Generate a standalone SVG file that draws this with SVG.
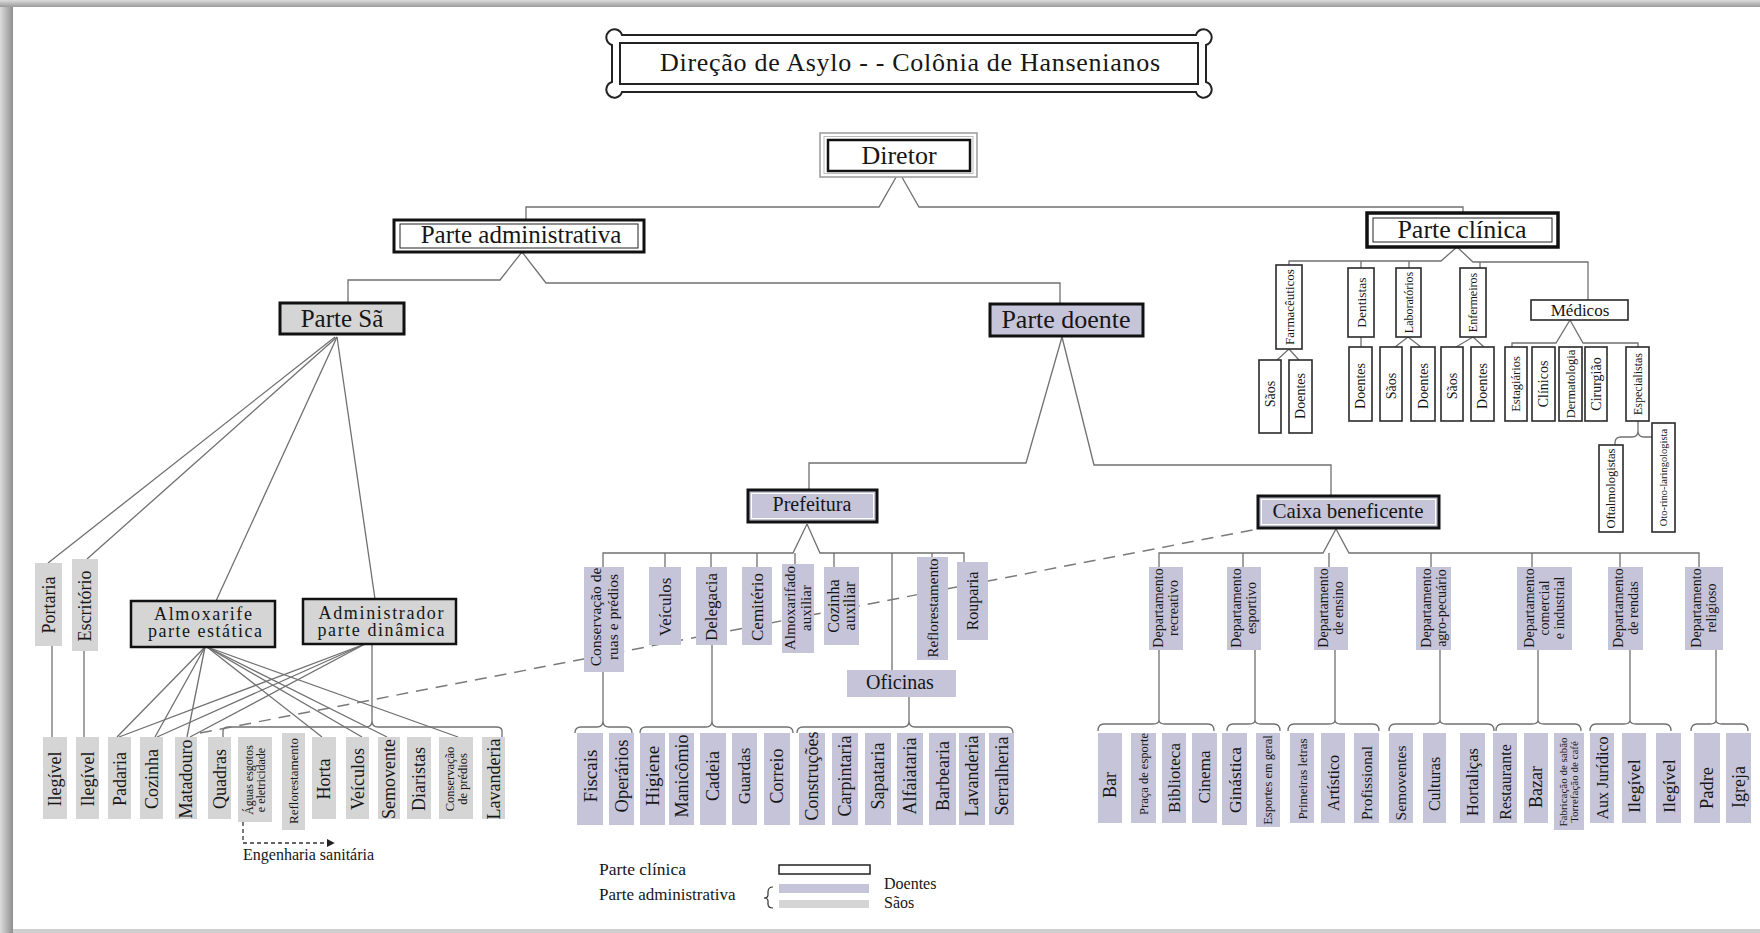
<svg xmlns="http://www.w3.org/2000/svg" width="1760" height="933" viewBox="0 0 1760 933">
<defs>
<style>
.t{font-family:"Liberation Serif","Times New Roman",serif;fill:#161616}
.v{text-anchor:middle}
.m{text-anchor:middle}
.g{fill:#d5d5d5}
.d{fill:#c6c4d9}
.w{fill:#fff;stroke:#2a2a2a;stroke-width:1.6}
.kb{stroke:#111;stroke-width:3}
.ln{fill:none;stroke:#707070;stroke-width:1.3}
.dash{fill:none;stroke:#7a7a7a;stroke-width:1.5;stroke-dasharray:12 8}
</style>
<linearGradient id="gl" x1="0" y1="0" x2="1" y2="0"><stop offset="0" stop-color="#dcdcdc"/><stop offset="1" stop-color="#8e8e8e"/></linearGradient>
<linearGradient id="gt" x1="0" y1="0" x2="0" y2="1"><stop offset="0" stop-color="#dcdcdc"/><stop offset="1" stop-color="#9a9a9a"/></linearGradient>
<marker id="ah" viewBox="0 0 10 10" refX="9" refY="5" markerWidth="6" markerHeight="6" orient="auto"><path d="M0,0 L10,5 L0,10 z" fill="#222"/></marker>
</defs>

<!-- page & shadow -->
<rect x="0" y="0" width="1760" height="933" fill="#cfcfcf"/>
<rect x="0" y="0" width="13" height="933" fill="url(#gl)"/>
<rect x="0" y="0" width="1760" height="7" fill="url(#gt)"/>
<rect x="13" y="7" width="1747" height="922" fill="#fff"/>

<!-- connectors -->
<g id="connectors" class="ln">
<path d="M899,172 L879,207 H526 V220"/>
<path d="M899,172 L919,207 H1463 V213"/>
<path d="M522,252 L500,280 H348 V303"/>
<path d="M522,252 L546,283 H1060 V304"/>
<path d="M1062,337 L1026,463 H809 V490"/>
<path d="M1062,337 L1094,465 H1331 V496"/>
<!-- Parte Sa fan -->
<path d="M335,337 L48,563"/>
<path d="M337,337 L87,559"/>
<path d="M337,337 L216,601"/>
<path d="M337,337 L375,599"/>
<path d="M52,646 V737"/>
<path d="M84,651 V737"/>
<!-- Almoxarife fan -->
<path d="M205,647 L117,737"/>
<path d="M205,647 L155,737"/>
<path d="M205,647 L187,737"/>
<path d="M207,647 L322,737"/>
<path d="M207,647 L362,737"/>
<path d="M207,647 L387,737"/>
<path d="M207,647 L458,737"/>
<!-- Administrador fan -->
<path d="M365,644 L119,737"/>
<path d="M365,644 L157,737"/>
<path d="M365,644 L190,737"/>
<path d="M372,644 V721"/>
<path d="M223,737 V731 Q223,727 229,727 H366 Q372,727 372,721 Q372,727 378,727 H496 Q502,727 502,731 V737"/>
<!-- Prefeitura -->
<path d="M807,524 L793,553 H603 V567"/>
<path d="M807,524 L820,553 H964 V562"/>
<path d="M665,553 V567 M711,553 V567 M757,553 V567 M795,553 V564 M834,553 V567 M892,553 V670 M932,553 V557"/>
<path d="M603,672 V721 M575,733 Q575,727 581,727 H597 Q603,727 603,721 Q603,727 609,727 H626 Q632,727 632,733"/>
<path d="M712,645 V721 M640,733 Q640,727 646,727 H706 Q712,727 712,721 Q712,727 718,727 H787 Q793,727 793,733"/>
<path d="M909,697 V721 M797,733 Q797,727 803,727 H903 Q909,727 909,721 Q909,727 915,727 H1007 Q1013,727 1013,733"/>
<!-- Caixa -->
<path d="M1336,529 L1323,553 H1159 V567"/>
<path d="M1336,529 L1349,553 H1699 V567"/>
<path d="M1243,553 V567 M1329,553 V567 M1431,553 V567 M1532,553 V567 M1620,553 V567"/>
<path d="M1159,650 V720 M1098,731 Q1098,724 1104,724 H1153 Q1159,724 1159,720 Q1159,724 1165,724 H1208 Q1214,724 1214,731"/>
<path d="M1255,650 V720 M1227,731 Q1227,724 1233,724 H1249 Q1255,724 1255,720 Q1255,724 1261,724 H1274 Q1280,724 1280,731"/>
<path d="M1335,650 V720 M1288,731 Q1288,724 1294,724 H1329 Q1335,724 1335,720 Q1335,724 1341,724 H1373 Q1379,724 1379,731"/>
<path d="M1440,650 V720 M1389,731 Q1389,724 1395,724 H1434 Q1440,724 1440,720 Q1440,724 1446,724 H1488 Q1494,724 1494,731"/>
<path d="M1538,650 V720 M1496,731 Q1496,724 1502,724 H1532 Q1538,724 1538,720 Q1538,724 1544,724 H1575 Q1581,724 1581,731"/>
<path d="M1630,650 V720 M1590,731 Q1590,724 1596,724 H1624 Q1630,724 1630,720 Q1630,724 1636,724 H1665 Q1671,724 1671,731"/>
<path d="M1716,650 V720 M1691,731 Q1691,724 1697,724 H1710 Q1716,724 1716,720 Q1716,724 1722,724 H1742 Q1748,724 1748,731"/>
<!-- Clinica -->
<path d="M1457,247 L1441,261 H1289 V265"/>
<path d="M1457,247 L1473,262 H1588 V300"/>
<path d="M1361,261 V268 M1409,261 V268 M1480,262 V268"/>
<path d="M1289,349 L1277,360 M1289,349 L1299,360"/>
<path d="M1361,337 V347"/>
<path d="M1408,337 L1395,347 M1408,337 L1421,347"/>
<path d="M1473,337 L1456,347 M1473,337 L1484,347"/>
<path d="M1570,320 L1556,343 H1512 V347 M1570,320 L1583,343 H1638 V347"/>
<path d="M1638,421 V431 Q1638,437 1632,437 H1621 Q1615,437 1615,443 V445 M1638,431 Q1638,437 1644,437 H1652"/>
<!-- dashed -->
<path class="dash" d="M200,733 L1268,527"/>
<path d="M243,822 V843 H334" stroke="#333" stroke-width="1.3" stroke-dasharray="4 3" marker-end="url(#ah)"/>
</g>

<!-- title -->
<g id="title">
<path d="M622,35 H1196 A8 8 0 1 1 1206,45 V82 A8 8 0 1 1 1196,92 H622 A8 8 0 1 1 612,82 V45 A8 8 0 1 1 622,35 Z" fill="#fff" stroke="#222" stroke-width="2"/>
<rect x="620" y="43" width="578" height="41" fill="#fff" stroke="#222" stroke-width="2"/>
<text class="t m" x="910" y="71" font-size="26" textLength="500">Direção de Asylo - - Colônia de Hansenianos</text>
</g>

<g id="n-diretor">
<rect x="820" y="133" width="157" height="44" fill="#fff" stroke="#999" stroke-width="1.5"/>
<rect x="824" y="136.5" width="149" height="37" fill="none" stroke="#bbb" stroke-width="1"/>
<rect x="828" y="140" width="142" height="31" fill="#fff" stroke="#111" stroke-width="2.5"/>
<text class="t m" x="899" y="164" font-size="26">Diretor</text>
</g>

<g id="n-parte-adm">
<rect x="394" y="220" width="250" height="32" fill="#fff" class="kb"/>
<rect x="400" y="224" width="238" height="24" fill="none" stroke="#222" stroke-width="1"/>
<text class="t m" x="521" y="243" font-size="25">Parte administrativa</text>
</g>

<g id="n-parte-clinica">
<rect x="1367" y="213" width="191" height="34" fill="#fff" stroke="#111" stroke-width="3.5"/>
<rect x="1373" y="218" width="179" height="24" fill="none" stroke="#222" stroke-width="1"/>
<text class="t m" x="1462" y="238" font-size="26">Parte clínica</text>
</g>

<g id="n-parte-sa">
<rect x="280" y="303" width="124" height="31" class="g kb"/>
<text class="t m" x="342" y="327" font-size="25">Parte Sã</text>
</g>

<g id="n-parte-doente">
<rect x="990" y="304" width="153" height="32" class="d kb"/>
<text class="t m" x="1066" y="328" font-size="26">Parte doente</text>
</g>

<g id="n-prefeitura">
<rect x="748" y="490" width="129" height="32" class="d kb"/>
<rect x="751.5" y="493.5" width="122" height="25" fill="none" stroke="#fff" stroke-width="1"/>
<text class="t m" x="812" y="511" font-size="20">Prefeitura</text>
</g>

<g id="n-caixa">
<rect x="1258" y="496" width="181" height="32" class="d kb"/>
<rect x="1261.5" y="499.5" width="174" height="25" fill="none" stroke="#fff" stroke-width="1"/>
<text class="t m" x="1348" y="518" font-size="21">Caixa beneficente</text>
</g>

<g id="n-almoxarife">
<rect x="131" y="601" width="144" height="46" class="g" stroke="#111" stroke-width="2.5"/>
<text class="t m" x="203" y="620" font-size="18" textLength="98">Almoxarife</text>
<text class="t m" x="205" y="637" font-size="18" textLength="114">parte estática</text>
</g>

<g id="n-administrador">
<rect x="303" y="599" width="153" height="45" class="g" stroke="#111" stroke-width="2.5"/>
<text class="t m" x="381" y="619" font-size="18" textLength="125">Administrador</text>
<text class="t m" x="381" y="636" font-size="18" textLength="127">parte dinâmica</text>
</g>

<!-- Parte Sã vertical boxes -->
<g id="n-portaria"><rect x="35" y="563" width="27" height="83" class="g"/><text class="t v" transform="translate(48.5 605) rotate(-90)" font-size="18" dy=".35em">Portaria</text></g>
<g id="n-escritorio"><rect x="72" y="559" width="26" height="92" class="g"/><text class="t v" transform="translate(85 606) rotate(-90)" font-size="18" dy=".35em">Escritório</text></g>

<g id="n-ilegivel-1"><rect x="43" y="737" width="24" height="82" class="g"/><text class="t v" transform="translate(55 779) rotate(-90)" font-size="18" dy=".35em">Ilegível</text></g>
<g id="n-ilegivel-2"><rect x="76" y="737" width="23" height="82" class="g"/><text class="t v" transform="translate(87.5 779) rotate(-90)" font-size="18" dy=".35em">Ilegível</text></g>
<g id="n-padaria"><rect x="108" y="737" width="23" height="82" class="g"/><text class="t v" transform="translate(119.5 779) rotate(-90)" font-size="18" dy=".35em">Padaria</text></g>
<g id="n-cozinha"><rect x="140" y="737" width="23" height="82" class="g"/><text class="t v" transform="translate(151.5 779) rotate(-90)" font-size="18" dy=".35em">Cozinha</text></g>
<g id="n-matadouro"><rect x="175" y="737" width="22" height="82" class="g"/><text class="t v" transform="translate(186 779) rotate(-90)" font-size="18" dy=".35em">Matadouro</text></g>
<g id="n-quadras"><rect x="208" y="737" width="23" height="82" class="g"/><text class="t v" transform="translate(219.5 779) rotate(-90)" font-size="18" dy=".35em">Quadras</text></g>
<g id="n-aguas"><rect x="238" y="737" width="34" height="85" class="g"/><text class="t v" transform="translate(255 780) rotate(-90)" font-size="12"><tspan x="0" y="-1.8">Águas esgotos</tspan><tspan x="0" y="10.2">e eletricidade</tspan></text></g>
<g id="n-reflorestamento-1"><rect x="282" y="733" width="23" height="97" class="g"/><text class="t v" transform="translate(293.5 781) rotate(-90)" font-size="13" dy=".35em">Reflorestamento</text></g>
<g id="n-horta"><rect x="312" y="737" width="24" height="82" class="g"/><text class="t v" transform="translate(324 779) rotate(-90)" font-size="18" dy=".35em">Horta</text></g>
<g id="n-veiculos-1"><rect x="346" y="737" width="23" height="82" class="g"/><text class="t v" transform="translate(357.5 779) rotate(-90)" font-size="18" dy=".35em">Veículos</text></g>
<g id="n-semovente"><rect x="378" y="737" width="22" height="82" class="g"/><text class="t v" transform="translate(389 779) rotate(-90)" font-size="18" dy=".35em">Semovente</text></g>
<g id="n-diaristas"><rect x="407" y="737" width="24" height="82" class="g"/><text class="t v" transform="translate(419 779) rotate(-90)" font-size="18" dy=".35em">Diaristas</text></g>
<g id="n-conservacao-predios"><rect x="439" y="737" width="34" height="82" class="g"/><text class="t v" transform="translate(456 779) rotate(-90)" font-size="12.5"><tspan x="0" y="-1.9">Conservação</tspan><tspan x="0" y="10.6">de prédios</tspan></text></g>
<g id="n-lavanderia-1"><rect x="482" y="737" width="23" height="82" class="g"/><text class="t v" transform="translate(493.5 779) rotate(-90)" font-size="18" dy=".35em">Lavanderia</text></g>

<g id="n-engenharia"><text class="t" x="243" y="860" font-size="16">Engenharia sanitária</text></g>

<!-- Prefeitura children -->
<g id="n-conservacao-ruas"><rect x="584" y="567" width="40" height="105" class="d"/><text class="t v" transform="translate(604 617) rotate(-90)" font-size="15.5"><tspan x="0" y="-3.1">Conservação de</tspan><tspan x="0" y="13.9">ruas e prédios</tspan></text></g>
<g id="n-veiculos-2"><rect x="649" y="567" width="32" height="78" class="d"/><text class="t v" transform="translate(665 607) rotate(-90)" font-size="17" dy=".35em">Veículos</text></g>
<g id="n-delegacia"><rect x="696" y="567" width="31" height="78" class="d"/><text class="t v" transform="translate(711.5 607) rotate(-90)" font-size="17" dy=".35em">Delegacia</text></g>
<g id="n-cemiterio"><rect x="742" y="567" width="30" height="78" class="d"/><text class="t v" transform="translate(757 607) rotate(-90)" font-size="17" dy=".35em">Cemitério</text></g>
<g id="n-almoxarifado"><rect x="782" y="564" width="32" height="89" class="d"/><text class="t v" transform="translate(798 608) rotate(-90)" font-size="15"><tspan x="0" y="-2.75">Almoxarifado</tspan><tspan x="0" y="13.25">auxiliar</tspan></text></g>
<g id="n-cozinha-aux"><rect x="824" y="567" width="35" height="78" class="d"/><text class="t v" transform="translate(841.5 606) rotate(-90)" font-size="16"><tspan x="0" y="-2.4">Cozinha</tspan><tspan x="0" y="13.6">auxiliar</tspan></text></g>
<g id="n-reflorestamento-2"><rect x="917" y="557" width="31" height="103" class="d"/><text class="t v" transform="translate(932.5 608) rotate(-90)" font-size="15" dy=".35em">Reflorestamento</text></g>
<g id="n-rouparia"><rect x="957" y="562" width="31" height="78" class="d"/><text class="t v" transform="translate(972.5 601) rotate(-90)" font-size="16" dy=".35em">Rouparia</text></g>
<g id="n-oficinas"><rect x="847" y="670" width="109" height="27" class="d"/><text class="t m" x="900" y="689" font-size="20">Oficinas</text></g>

<g id="n-fiscais"><rect x="577" y="733" width="26" height="92" class="d"/><text class="t v" transform="translate(590 776) rotate(-90)" font-size="19" dy=".35em">Fiscais</text></g>
<g id="n-operarios"><rect x="609" y="733" width="25" height="92" class="d"/><text class="t v" transform="translate(621.5 776) rotate(-90)" font-size="18.5" dy=".35em">Operários</text></g>
<g id="n-higiene"><rect x="640" y="733" width="25" height="92" class="d"/><text class="t v" transform="translate(652.5 776) rotate(-90)" font-size="19" dy=".35em">Higiene</text></g>
<g id="n-manicomio"><rect x="669" y="733" width="25" height="92" class="d"/><text class="t v" transform="translate(681.5 776) rotate(-90)" font-size="18" dy=".35em">Manicômio</text></g>
<g id="n-cadeia"><rect x="700" y="733" width="26" height="92" class="d"/><text class="t v" transform="translate(713 776) rotate(-90)" font-size="18" dy=".35em">Cadeia</text></g>
<g id="n-guardas"><rect x="732" y="733" width="25" height="92" class="d"/><text class="t v" transform="translate(744.5 776) rotate(-90)" font-size="17" dy=".35em">Guardas</text></g>
<g id="n-correio"><rect x="764" y="733" width="26" height="92" class="d"/><text class="t v" transform="translate(777 776) rotate(-90)" font-size="18" dy=".35em">Correio</text></g>
<g id="n-construcoes"><rect x="799" y="733" width="26" height="92" class="d"/><text class="t v" transform="translate(812 776) rotate(-90)" font-size="18" dy=".35em">Construções</text></g>
<g id="n-carpintaria"><rect x="832" y="733" width="26" height="92" class="d"/><text class="t v" transform="translate(845 776) rotate(-90)" font-size="18" dy=".35em">Carpintaria</text></g>
<g id="n-sapataria"><rect x="865" y="733" width="26" height="92" class="d"/><text class="t v" transform="translate(878 776) rotate(-90)" font-size="18" dy=".35em">Sapataria</text></g>
<g id="n-alfaiataria"><rect x="897" y="733" width="26" height="92" class="d"/><text class="t v" transform="translate(910 776) rotate(-90)" font-size="18" dy=".35em">Alfaiataria</text></g>
<g id="n-barbearia"><rect x="929" y="733" width="27" height="92" class="d"/><text class="t v" transform="translate(942.5 776) rotate(-90)" font-size="18" dy=".35em">Barbearia</text></g>
<g id="n-lavanderia-2"><rect x="959" y="733" width="26" height="92" class="d"/><text class="t v" transform="translate(972 776) rotate(-90)" font-size="18" dy=".35em">Lavanderia</text></g>
<g id="n-serralheria"><rect x="989" y="733" width="25" height="92" class="d"/><text class="t v" transform="translate(1001.5 776) rotate(-90)" font-size="18" dy=".35em">Serralheria</text></g>

<!-- Caixa departments -->
<g id="n-dep-recreativo"><rect x="1149" y="567" width="34" height="83" class="d"/><text class="t v" transform="translate(1166 608) rotate(-90)" font-size="14"><tspan x="0" y="-2.6">Departamento</tspan><tspan x="0" y="12.4">recreativo</tspan></text></g>
<g id="n-dep-esportivo"><rect x="1227" y="567" width="34" height="83" class="d"/><text class="t v" transform="translate(1244 608) rotate(-90)" font-size="14"><tspan x="0" y="-2.6">Departamento</tspan><tspan x="0" y="12.4">esportivo</tspan></text></g>
<g id="n-dep-ensino"><rect x="1314" y="567" width="34" height="83" class="d"/><text class="t v" transform="translate(1331 608) rotate(-90)" font-size="14"><tspan x="0" y="-2.6">Departamento</tspan><tspan x="0" y="12.4">de ensino</tspan></text></g>
<g id="n-dep-agro"><rect x="1416" y="567" width="35" height="83" class="d"/><text class="t v" transform="translate(1433.5 608) rotate(-90)" font-size="14"><tspan x="0" y="-2.6">Departamento</tspan><tspan x="0" y="12.4">agro-pecuário</tspan></text></g>
<g id="n-dep-comercial"><rect x="1517" y="567" width="55" height="83" class="d"/><text class="t v" transform="translate(1544.5 608) rotate(-90)" font-size="14"><tspan x="0" y="-10.1">Departamento</tspan><tspan x="0" y="4.9">comercial</tspan><tspan x="0" y="19.9">e industrial</tspan></text></g>
<g id="n-dep-rendas"><rect x="1608" y="567" width="35" height="83" class="d"/><text class="t v" transform="translate(1625.5 608) rotate(-90)" font-size="14"><tspan x="0" y="-2.6">Departamento</tspan><tspan x="0" y="12.4">de rendas</tspan></text></g>
<g id="n-dep-religioso"><rect x="1685" y="567" width="38" height="83" class="d"/><text class="t v" transform="translate(1704 608) rotate(-90)" font-size="14"><tspan x="0" y="-2.6">Departamento</tspan><tspan x="0" y="12.4">religioso</tspan></text></g>

<g id="n-bar"><rect x="1098" y="733" width="24" height="90" class="d"/><text class="t v" transform="translate(1110 785) rotate(-90)" font-size="18" dy=".35em">Bar</text></g>
<g id="n-praca"><rect x="1131" y="733" width="25" height="90" class="d"/><text class="t v" transform="translate(1143.5 774) rotate(-90)" font-size="12.5" dy=".35em">Praça de esporte</text></g>
<g id="n-biblioteca"><rect x="1162" y="733" width="24" height="90" class="d"/><text class="t v" transform="translate(1174 778) rotate(-90)" font-size="17" dy=".35em">Biblioteca</text></g>
<g id="n-cinema"><rect x="1192" y="733" width="25" height="90" class="d"/><text class="t v" transform="translate(1204.5 777) rotate(-90)" font-size="17" dy=".35em">Cinema</text></g>
<g id="n-ginastica"><rect x="1222" y="733" width="25" height="92" class="d"/><text class="t v" transform="translate(1234.5 780) rotate(-90)" font-size="17.5" dy=".35em">Ginástica</text></g>
<g id="n-esportes"><rect x="1256" y="733" width="24" height="94" class="d"/><text class="t v" transform="translate(1268 780) rotate(-90)" font-size="12.5" dy=".35em">Esportes em geral</text></g>
<g id="n-primeiras"><rect x="1290" y="733" width="24" height="90" class="d"/><text class="t v" transform="translate(1302 779) rotate(-90)" font-size="13" dy=".35em">Primeiras letras</text></g>
<g id="n-artistico"><rect x="1321" y="733" width="24" height="90" class="d"/><text class="t v" transform="translate(1333 783) rotate(-90)" font-size="16" dy=".35em">Artístico</text></g>
<g id="n-profissional"><rect x="1354" y="733" width="25" height="90" class="d"/><text class="t v" transform="translate(1366.5 783) rotate(-90)" font-size="15.5" dy=".35em">Profissional</text></g>
<g id="n-semoventes"><rect x="1389" y="733" width="24" height="90" class="d"/><text class="t v" transform="translate(1401 783) rotate(-90)" font-size="15.5" dy=".35em">Semoventes</text></g>
<g id="n-culturas"><rect x="1423" y="733" width="23" height="90" class="d"/><text class="t v" transform="translate(1434.5 784) rotate(-90)" font-size="16" dy=".35em">Culturas</text></g>
<g id="n-hortalicas"><rect x="1460" y="733" width="25" height="90" class="d"/><text class="t v" transform="translate(1472.5 782) rotate(-90)" font-size="16.5" dy=".35em">Hortaliças</text></g>
<g id="n-restaurante"><rect x="1493" y="733" width="24" height="90" class="d"/><text class="t v" transform="translate(1505 782) rotate(-90)" font-size="16" dy=".35em">Restaurante</text></g>
<g id="n-bazar"><rect x="1524" y="733" width="24" height="90" class="d"/><text class="t v" transform="translate(1536 787) rotate(-90)" font-size="18" dy=".35em">Bazar</text></g>
<g id="n-fabricacao"><rect x="1554" y="733" width="30" height="97" class="d"/><text class="t v" transform="translate(1569 782) rotate(-90)" font-size="11"><tspan x="0" y="-1.65">Fabricação de sabão</tspan><tspan x="0" y="9.35">Torrefação de café</tspan></text></g>
<g id="n-aux-juridico"><rect x="1590" y="733" width="24" height="90" class="d"/><text class="t v" transform="translate(1602 778) rotate(-90)" font-size="16" dy=".35em">Aux Jurídico</text></g>
<g id="n-ilegivel-3"><rect x="1622" y="733" width="24" height="90" class="d"/><text class="t v" transform="translate(1634 786) rotate(-90)" font-size="17.5" dy=".35em">Ilegível</text></g>
<g id="n-ilegivel-4"><rect x="1656" y="733" width="25" height="90" class="d"/><text class="t v" transform="translate(1668.5 786) rotate(-90)" font-size="17.5" dy=".35em">Ilegível</text></g>
<g id="n-padre"><rect x="1694" y="733" width="26" height="90" class="d"/><text class="t v" transform="translate(1707 788) rotate(-90)" font-size="18.5" dy=".35em">Padre</text></g>
<g id="n-igreja"><rect x="1726" y="733" width="25" height="90" class="d"/><text class="t v" transform="translate(1738.5 787) rotate(-90)" font-size="18" dy=".35em">Igreja</text></g>

<!-- Parte clínica children -->
<g id="n-farmaceuticos"><rect x="1276" y="265" width="26" height="84" class="w"/><text class="t v" transform="translate(1289 307) rotate(-90)" font-size="13" dy=".35em">Farmacêuticos</text></g>
<g id="n-farm-saos"><rect x="1259" y="360" width="22" height="73" class="w"/><text class="t v" transform="translate(1270 394) rotate(-90)" font-size="14" dy=".35em">Sãos</text></g>
<g id="n-farm-doentes"><rect x="1289" y="360" width="23" height="73" class="w"/><text class="t v" transform="translate(1300.5 396) rotate(-90)" font-size="14" dy=".35em">Doentes</text></g>
<g id="n-dentistas"><rect x="1348" y="268" width="26" height="69" class="w"/><text class="t v" transform="translate(1361 302.5) rotate(-90)" font-size="13.5" dy=".35em">Dentistas</text></g>
<g id="n-dent-doentes"><rect x="1349" y="347" width="23" height="74" class="w"/><text class="t v" transform="translate(1360.5 386) rotate(-90)" font-size="14" dy=".35em">Doentes</text></g>
<g id="n-laboratorios"><rect x="1396" y="268" width="25" height="69" class="w"/><text class="t v" transform="translate(1408.5 302.5) rotate(-90)" font-size="12" dy=".35em">Laboratórios</text></g>
<g id="n-lab-saos"><rect x="1380" y="347" width="22" height="74" class="w"/><text class="t v" transform="translate(1391 386) rotate(-90)" font-size="14" dy=".35em">Sãos</text></g>
<g id="n-lab-doentes"><rect x="1411" y="347" width="24" height="74" class="w"/><text class="t v" transform="translate(1423 386) rotate(-90)" font-size="14" dy=".35em">Doentes</text></g>
<g id="n-enfermeiros"><rect x="1460" y="268" width="26" height="69" class="w"/><text class="t v" transform="translate(1473 302.5) rotate(-90)" font-size="12" dy=".35em">Enfermeiros</text></g>
<g id="n-enf-saos"><rect x="1441" y="347" width="22" height="74" class="w"/><text class="t v" transform="translate(1452 386) rotate(-90)" font-size="14" dy=".35em">Sãos</text></g>
<g id="n-enf-doentes"><rect x="1471" y="347" width="23" height="74" class="w"/><text class="t v" transform="translate(1482.5 386) rotate(-90)" font-size="14" dy=".35em">Doentes</text></g>
<g id="n-medicos"><rect x="1531" y="300" width="97" height="20" class="w"/><text class="t m" x="1580" y="315.5" font-size="17">Médicos</text></g>
<g id="n-estagiarios"><rect x="1505" y="347" width="22" height="74" class="w"/><text class="t v" transform="translate(1516 384) rotate(-90)" font-size="12.5" dy=".35em">Estagiários</text></g>
<g id="n-clinicos"><rect x="1532" y="347" width="23" height="74" class="w"/><text class="t v" transform="translate(1543.5 384) rotate(-90)" font-size="14" dy=".35em">Clínicos</text></g>
<g id="n-dermatologia"><rect x="1559" y="347" width="23" height="74" class="w"/><text class="t v" transform="translate(1570.5 384) rotate(-90)" font-size="12.5" dy=".35em">Dermatologia</text></g>
<g id="n-cirurgiao"><rect x="1585" y="347" width="22" height="74" class="w"/><text class="t v" transform="translate(1596 384) rotate(-90)" font-size="14" dy=".35em">Cirurgião</text></g>
<g id="n-especialistas"><rect x="1626" y="347" width="23" height="74" class="w"/><text class="t v" transform="translate(1637.5 384) rotate(-90)" font-size="12" dy=".35em">Especialistas</text></g>
<g id="n-oftalmologistas"><rect x="1599" y="445" width="24" height="87" class="w"/><text class="t v" transform="translate(1611 488.5) rotate(-90)" font-size="12.5" dy=".35em">Oftalmologistas</text></g>
<g id="n-oto"><rect x="1652" y="423" width="23" height="109" class="w"/><text class="t v" transform="translate(1663.5 477.5) rotate(-90)" font-size="10.5" dy=".35em">Oto-rino-laringologista</text></g>

<!-- legend -->
<g id="legend">
<text class="t" x="599" y="875" font-size="17.5">Parte clínica</text>
<text class="t" x="599" y="900" font-size="17">Parte administrativa</text>
<rect x="779" y="865" width="91" height="9" fill="#fff" stroke="#222" stroke-width="1.5"/>
<path d="M773,887 Q768,887 768,892 V895 Q768,898 764,898 Q768,898 768,901 V904 Q768,908 773,908" fill="none" stroke="#333" stroke-width="1.2"/>
<rect x="779" y="884" width="90" height="9" class="d"/>
<rect x="779" y="900" width="90" height="8" class="g"/>
<text class="t" x="884" y="889" font-size="16">Doentes</text>
<text class="t" x="884" y="908" font-size="16">Sãos</text>
</g>
</svg>
